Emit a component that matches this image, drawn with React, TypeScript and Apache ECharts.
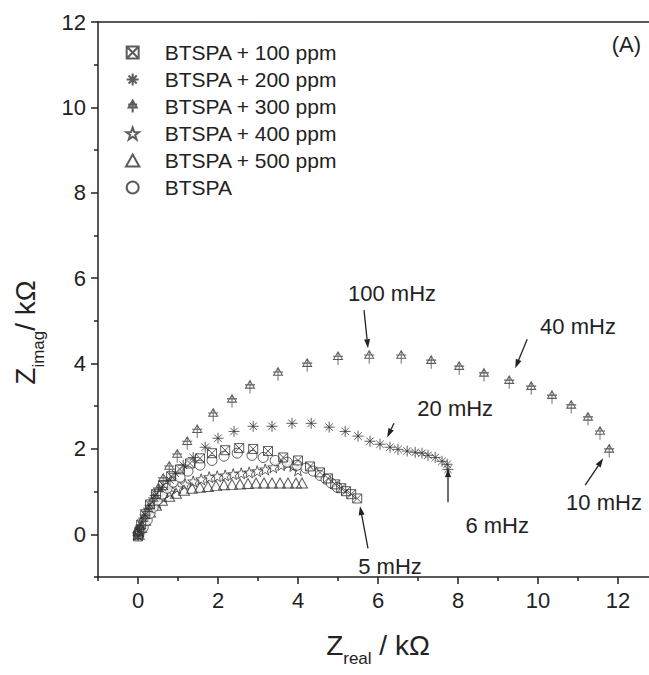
import React, { useEffect, useRef } from "react";
import * as echarts from "echarts";

const FONT = "'Liberation Sans', Arial, Helvetica, sans-serif";
const INK = "#222";

// ---------- data (Z_real, Z_imag) in kΩ ----------
const seriesNames = [
  "BTSPA + 100 ppm",
  "BTSPA + 200 ppm",
  "BTSPA + 300 ppm",
  "BTSPA + 400 ppm",
  "BTSPA + 500 ppm",
  "BTSPA",
];

const ppm100: [number, number][] = [
  [0.0, -0.05], [0.03, 0.05], [0.08, 0.23], [0.18, 0.47], [0.3, 0.7], [0.45, 0.94],
  [0.63, 1.15], [0.83, 1.36], [1.05, 1.52], [1.3, 1.66], [1.55, 1.78], [1.85, 1.9],
  [2.18, 1.97], [2.53, 2.02], [2.88, 2.0], [3.25, 1.95], [3.63, 1.8], [4.0, 1.73],
  [4.3, 1.59], [4.55, 1.45], [4.75, 1.31], [4.93, 1.17], [5.08, 1.08], [5.2, 1.01],
  [5.33, 0.94], [5.48, 0.84],
];

const ppm200: [number, number][] = [
  [0.0, -0.03], [0.03, 0.08], [0.08, 0.21], [0.18, 0.45], [0.3, 0.68], [0.43, 0.91],
  [0.6, 1.1], [0.8, 1.27], [0.93, 1.43], [1.13, 1.62], [1.38, 1.8], [1.68, 2.04],
  [2.0, 2.25], [2.4, 2.41], [2.88, 2.53], [3.35, 2.53], [3.85, 2.6], [4.33, 2.6],
  [4.78, 2.51], [5.18, 2.41], [5.5, 2.3], [5.8, 2.18], [6.05, 2.11], [6.3, 2.04],
  [6.5, 1.99], [6.73, 1.95], [6.93, 1.92], [7.1, 1.9], [7.25, 1.85], [7.43, 1.8],
  [7.6, 1.71], [7.73, 1.64], [7.75, 1.52],
];

const ppm300: [number, number][] = [
  [0.0, 0.02], [0.05, 0.14], [0.13, 0.33], [0.25, 0.56], [0.38, 0.8], [0.5, 1.03],
  [0.63, 1.27], [0.78, 1.55], [0.98, 1.83], [1.23, 2.13], [1.48, 2.41], [1.88, 2.79],
  [2.35, 3.12], [2.8, 3.45], [3.5, 3.75], [4.23, 3.96], [5.0, 4.12], [5.78, 4.15],
  [6.58, 4.15], [7.33, 4.03], [8.03, 3.89], [8.65, 3.73], [9.28, 3.56], [9.83, 3.42],
  [10.35, 3.21], [10.83, 2.98], [11.25, 2.7], [11.55, 2.37], [11.78, 1.95],
];

const ppm400: [number, number][] = [
  [0.0, 0.0], [0.1, 0.19], [0.2, 0.37], [0.33, 0.56], [0.48, 0.73], [0.63, 0.87],
  [0.8, 0.98], [0.98, 1.08], [1.18, 1.17], [1.38, 1.24], [1.58, 1.29], [1.78, 1.34],
  [1.98, 1.36], [2.18, 1.38], [2.38, 1.41], [2.58, 1.43], [2.78, 1.45], [2.98, 1.48],
  [3.18, 1.52], [3.38, 1.57], [3.58, 1.62], [3.75, 1.66], [3.88, 1.6], [4.0, 1.5],
];

const ppm500: [number, number][] = [
  [0.02, 0.0], [0.08, 0.16], [0.18, 0.33], [0.3, 0.52], [0.45, 0.68], [0.6, 0.8],
  [0.78, 0.89], [0.95, 0.96], [1.15, 1.03], [1.35, 1.08], [1.55, 1.1], [1.75, 1.12],
  [1.95, 1.14], [2.15, 1.16], [2.35, 1.17], [2.55, 1.18], [2.75, 1.19], [2.95, 1.2],
  [3.15, 1.2], [3.35, 1.2], [3.55, 1.2], [3.75, 1.2], [3.95, 1.2], [4.1, 1.2],
];

const blank: [number, number][] = [
  [0.02, 0.02], [0.05, 0.09], [0.13, 0.16], [0.23, 0.33], [0.3, 0.49], [0.38, 0.63],
  [0.48, 0.8], [0.6, 0.94], [0.73, 1.08], [0.88, 1.22], [1.05, 1.34], [1.25, 1.48],
  [1.55, 1.62], [1.85, 1.73], [2.15, 1.83], [2.48, 1.9], [2.85, 1.85], [3.13, 1.8],
  [3.43, 1.73], [3.73, 1.69], [3.98, 1.62], [4.2, 1.55], [4.38, 1.48], [4.55, 1.38],
  [4.7, 1.29], [4.83, 1.2], [4.98, 1.1],
];

const xMajorTicks = [0, 2, 4, 6, 8, 10, 12];
const xMinorTicks = [-1, 1, 3, 5, 7, 9, 11, 13];
const yMajorTicks = [0, 2, 4, 6, 8, 10, 12];
const yMinorTicks = [-1, 1, 3, 5, 7, 9, 11];

// frequency annotations: label centre, arrow tail, arrow head (data units)
const annotations: { text: string; at: [number, number]; from: [number, number]; to: [number, number] }[] = [
  { text: "100 mHz", at: [6.35, 5.65], from: [5.65, 5.25], to: [5.75, 4.36] },
  { text: "40 mHz", at: [11.0, 4.87], from: [9.73, 4.57], to: [9.43, 3.89] },
  { text: "20 mHz", at: [7.93, 2.95], from: [6.4, 2.6], to: [6.23, 2.27] },
  { text: "6 mHz", at: [8.98, 0.21], from: [7.75, 0.75], to: [7.75, 1.55] },
  { text: "10 mHz", at: [11.65, 0.75], from: [11.18, 1.15], to: [11.63, 1.78] },
  { text: "5 mHz", at: [6.3, -0.75], from: [5.75, -0.33], to: [5.55, 0.66] },
];

// ---------- symbols ----------
const SYM_SQX = "path://M0,0L10,0L10,10L0,10ZM0,0L10,10M10,0L0,10";
const SYM_AST = "path://M5,0L5,10M0,5L10,5M1.6,1.6L8.4,8.4M8.4,1.6L1.6,8.4";
const SYM_TRIX = "path://M5,0L9,7L1,7ZM5,0L5,12M0.5,4L9.5,4";
const SYM_STAR =
  "path://M5,0L6.18,3.38L9.76,3.45L6.9,5.62L7.94,9.05L5,7L2.06,9.05L3.1,5.62L0.24,3.45L3.82,3.38Z";
const SYM_TRI = "path://M5,0L10,9L0,9Z";

export default function App() {
  const ref = useRef<HTMLDivElement>(null);

  useEffect(() => {
    if (!ref.current) return;
    const chart = echarts.init(ref.current, undefined, { renderer: "svg" });

    const hollow = { color: "rgba(255,255,255,0)", borderColor: "#333", borderWidth: 1 };
    const mk = (name: string, data: [number, number][], symbol: string, size: number | number[], style: any, z = 2) => ({
      type: "scatter",
      name,
      data,
      symbol,
      symbolSize: size,
      itemStyle: style,
      z,
      emphasis: { disabled: true },
    });

    const axisLineStyle = { color: INK, width: 1.5 };
    const nameRich = {
      z: { fontSize: 28, fontFamily: FONT, color: INK, padding: [0, 0, 8, 0] },
      s: { fontSize: 17, fontFamily: FONT, color: INK, verticalAlign: "bottom" },
    };

    const option: any = {
      animation: false,
      backgroundColor: "#fff",
      grid: { left: 98, top: 22, width: 560, height: 555, outerBoundsMode: "none", containLabel: false },
      legend: {
        orient: "vertical",
        left: 120,
        top: 37,
        itemWidth: 54,
        itemHeight: 12,
        itemGap: 6,
        selectedMode: false,
        textStyle: { fontSize: 21, color: INK, fontFamily: FONT },
        data: seriesNames,
      },
      xAxis: [
        {
          type: "value",
          position: "bottom",
          min: -1,
          max: 13,
          axisLine: { show: true, onZero: false, lineStyle: axisLineStyle },
          axisTick: { show: true, customValues: xMajorTicks, length: 7, lineStyle: axisLineStyle },
          axisLabel: { customValues: xMajorTicks, fontSize: 22, color: INK, margin: 12, fontFamily: FONT },
          splitLine: { show: false },
          name: "{z|Z}{s|real}{z| / kΩ}",
          nameLocation: "middle",
          nameGap: 54,
          nameTextStyle: { color: INK, fontFamily: FONT, rich: nameRich },
        },
        {
          type: "value",
          position: "bottom",
          min: -1,
          max: 13,
          axisLine: { show: false, onZero: false },
          axisTick: { show: true, customValues: xMinorTicks, length: 4, lineStyle: axisLineStyle },
          axisLabel: { show: false },
          splitLine: { show: false },
        },
        {
          type: "value",
          position: "top",
          min: -1,
          max: 13,
          axisLine: { show: true, onZero: false, lineStyle: axisLineStyle },
          axisTick: { show: false },
          axisLabel: { show: false },
          splitLine: { show: false },
        },
      ],
      yAxis: [
        {
          type: "value",
          position: "left",
          min: -1,
          max: 12,
          axisLine: { show: true, onZero: false, lineStyle: axisLineStyle },
          axisTick: { show: true, customValues: yMajorTicks, length: 7, lineStyle: axisLineStyle },
          axisLabel: { customValues: yMajorTicks, fontSize: 22, color: INK, margin: 12, fontFamily: FONT },
          splitLine: { show: false },
          name: "{z|Z}{s|imag}{z|/ kΩ}",
          nameLocation: "middle",
          nameGap: 51,
          nameRotate: 90,
          nameTextStyle: { color: INK, fontFamily: FONT, rich: nameRich, padding: [0, 66, 0, 0] },
        },
        {
          type: "value",
          position: "left",
          min: -1,
          max: 12,
          axisLine: { show: false, onZero: false },
          axisTick: { show: true, customValues: yMinorTicks, length: 4, lineStyle: axisLineStyle },
          axisLabel: { show: false },
          splitLine: { show: false },
        },
      ],
      series: [
        mk(seriesNames[4], ppm500, SYM_TRI, [11, 10], hollow, 2),
        mk(seriesNames[3], ppm400, SYM_STAR, 11, hollow, 2),
        mk(seriesNames[5], blank, "circle", 10, { color: "#fff", borderColor: "#333", borderWidth: 1 }, 3),
        mk(seriesNames[0], ppm100, SYM_SQX, 9, hollow, 4),
        mk(seriesNames[1], ppm200, SYM_AST, 11, hollow, 4),
        mk(seriesNames[2], ppm300, SYM_TRIX, [10, 13], hollow, 4),
      ],
    };

    chart.setOption(option);

    const toPx = (p: [number, number]) => chart.convertToPixel({ gridIndex: 0 }, p) as number[];
    const graphics: any[] = [];
    annotations.forEach((a) => {
      const c = toPx(a.at);
      const f = toPx(a.from);
      const t = toPx(a.to);
      graphics.push({
        type: "text",
        x: c[0],
        y: c[1],
        style: {
          text: a.text,
          fontSize: 22,
          fontFamily: FONT,
          fill: INK,
          textAlign: "center",
          textVerticalAlign: "middle",
          align: "center",
          verticalAlign: "middle",
        },
        z: 10,
      });
      const dx = t[0] - f[0];
      const dy = t[1] - f[1];
      const len = Math.hypot(dx, dy) || 1;
      const ux = dx / len;
      const uy = dy / len;
      const hl = 9;
      const hw = 3;
      const bx = t[0] - ux * hl;
      const by = t[1] - uy * hl;
      graphics.push({
        type: "line",
        shape: { x1: f[0], y1: f[1], x2: bx, y2: by },
        style: { stroke: INK, lineWidth: 1.3 },
        z: 10,
      });
      graphics.push({
        type: "polygon",
        shape: {
          points: [
            [t[0], t[1]],
            [bx - uy * hw, by + ux * hw],
            [bx + uy * hw, by - ux * hw],
          ],
        },
        style: { fill: INK },
        z: 10,
      });
    });
    graphics.push({
      type: "text",
      right: 8,
      top: 33,
      style: { text: "(A)", fontSize: 22, fontFamily: FONT, fill: INK },
      z: 10,
    });
    chart.setOption({ graphic: graphics });

    return () => chart.dispose();
  }, []);

  return (
    <div
      ref={ref}
      style={{ position: "absolute", left: 0, top: 0, width: 649, height: 675, background: "#fff" }}
    />
  );
}
